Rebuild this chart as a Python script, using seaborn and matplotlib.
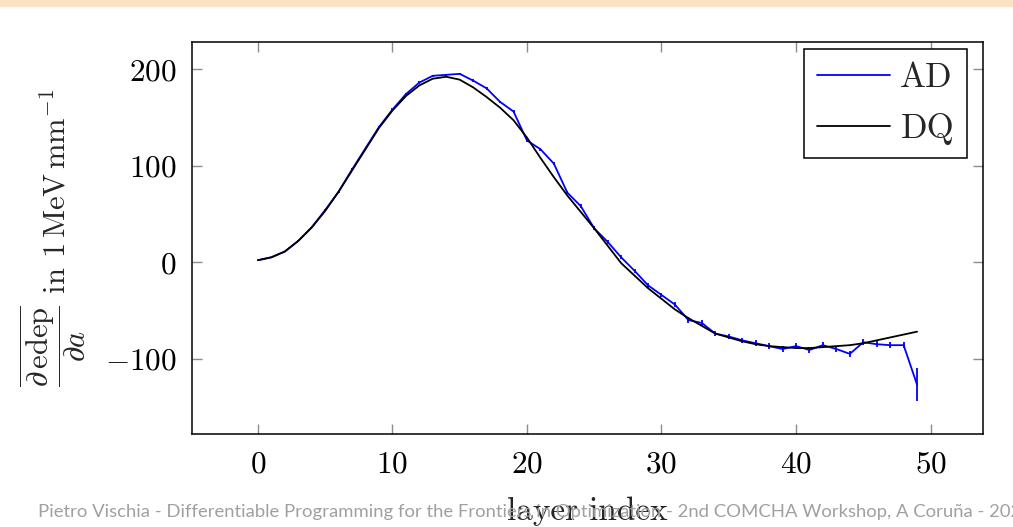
import matplotlib
matplotlib.use("Agg")
import matplotlib.pyplot as plt
from matplotlib.patches import Rectangle
import seaborn as sns
import pandas as pd

# layer index 0..49
layer = list(range(50))

# AD: automatic differentiation estimate (with error bars)
ad_values = [2, 5, 11, 22, 36, 54, 73, 96, 118, 140,
             158, 174, 186, 193, 194, 195, 188, 180, 166, 156,
             126, 117, 102, 72, 58, 35, 21, 5, -9, -24,
             -34, -44, -60, -63, -74, -77, -81, -84, -87, -90,
             -87, -91, -86, -90, -95, -83, -85, -86, -86, -127]
ad_errors = [0.5, 0.5, 0.5, 0.6, 0.7, 0.8, 0.9, 1.0, 1.0, 1.1,
             1.2, 1.2, 1.3, 1.3, 1.3, 1.4, 1.4, 1.4, 1.4, 1.5,
             1.6, 1.7, 1.8, 1.9, 2.0, 2.0, 2.1, 2.2, 2.3, 2.4,
             2.5, 2.6, 2.7, 2.8, 2.8, 2.8, 2.9, 2.9, 2.9, 3.0,
             3.0, 3.0, 3.0, 3.0, 3.2, 3.0, 3.0, 3.0, 3.0, 17.0]

# DQ: reference curve
dq_values = [2, 5, 11, 22, 36, 53, 73, 95, 117, 139,
             157, 172, 183, 190, 192, 189, 181, 171, 160, 147,
             129, 108, 88, 69, 52, 35, 17, -1, -14, -27,
             -38, -49, -58, -66, -74, -78, -82, -85, -87, -88,
             -89, -89, -88, -87, -86, -84, -81, -78, -75, -72]

footer = ("Pietro Vischia - Differentiable Programming for the Frontiers in Optimization"
          " - 2nd COMCHA Workshop, A Coruña - 2024")

df = pd.DataFrame({"layer": layer, "AD": ad_values, "DQ": dq_values, "err": ad_errors})

sns.set_theme(style="white")
plt.rcParams["font.family"] = "cmr10"
plt.rcParams["mathtext.fontset"] = "cm"
plt.rcParams["axes.formatter.use_mathtext"] = True
plt.rcParams["axes.unicode_minus"] = True

fig = plt.figure(figsize=(10.13, 5.27), dpi=100)
ax = fig.add_axes([192 / 1013, 1 - 434 / 527, 791 / 1013, 392 / 527])

# slide decoration: thin orange band at the top and the footer line
fig.patches.append(Rectangle((0, 1 - 6 / 527), 1, 6 / 527, transform=fig.transFigure,
                             color="#fbe3c2", zorder=0))
fig.text(38 / 1013, 1 - 512 / 527, footer, family="Lato", fontsize=13.3,
         color="#a0a0a0", va="center", ha="left")

sns.lineplot(data=df, x="layer", y="AD", ax=ax, color="#0000ff", lw=1.3, label="AD")
ax.vlines(df["layer"], df["AD"] - df["err"], df["AD"] + df["err"], color="#0000ff", lw=1.3)
sns.lineplot(data=df, x="layer", y="DQ", ax=ax, color="black", lw=1.3, label="DQ")

ax.set_xlim(-4.9, 53.9)
ax.set_ylim(-178, 228)
ax.set_xticks([0, 10, 20, 30, 40, 50])
ax.set_yticks([-100, 0, 100, 200])

for side in ax.spines.values():
    side.set_color("black")
    side.set_linewidth(1.1)
ax.tick_params(direction="in", length=7, width=1, color="#8c8c8c", labelsize=22.5,
               labelcolor="black", top=True, right=True, bottom=True, left=True)
ax.tick_params(axis="x", pad=12)
ax.tick_params(axis="y", pad=11)

ax.set_xlabel("layer index", fontsize=24, labelpad=13)
ax.set_ylabel(r"$\dfrac{\overline{\partial\,\mathrm{edep}}}{\partial a}$ in "
              r"$1\,\mathrm{MeV}\,\mathrm{mm}^{-1}$",
              fontsize=22, labelpad=12)

leg = ax.legend(loc="upper right", bbox_to_anchor=(0.98, 0.982), borderaxespad=0,
                fontsize=25, handlelength=2.1, fancybox=False, framealpha=1,
                edgecolor="black", labelspacing=0.55, borderpad=0.38, handletextpad=0.3)
leg.get_frame().set_linewidth(1.1)

fig.savefig("out.png", dpi=100)
